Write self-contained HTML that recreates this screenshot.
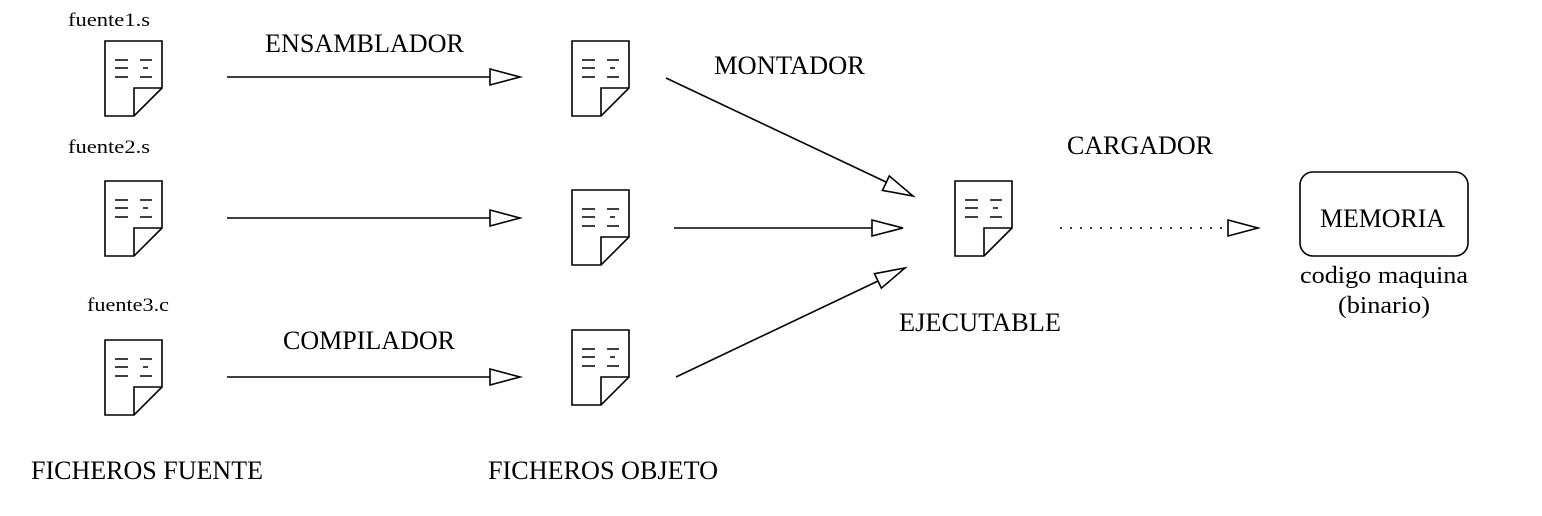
<!DOCTYPE html>
<html><head><meta charset="utf-8"><style>
html,body{margin:0;padding:0;background:#fff;}
svg{display:block;}
text{font-family:"Liberation Serif",serif;fill:#000;}
</style></head><body>
<svg width="1542" height="516" viewBox="0 0 1542 516" xmlns="http://www.w3.org/2000/svg">
<defs>
<g id="doc" fill="none" stroke="#000" stroke-width="1.6">
<path d="M0,0 H57 V47 L29,75 H0 Z" fill="#fff"/>
<path d="M57,47 H29 V75"/>
<path d="M10,19 H23 M10,27 H23 M10,36 H23 M35,19 H47 M38,27 H43 M35,36 H47"/>
</g>
</defs>
<use href="#doc" x="105" y="41"/>
<use href="#doc" x="105" y="181"/>
<use href="#doc" x="105" y="340"/>
<use href="#doc" x="572" y="41"/>
<use href="#doc" x="572" y="190"/>
<use href="#doc" x="572" y="330"/>
<use href="#doc" x="955" y="181"/>

<g stroke="#000" stroke-width="1.6" fill="#fff">
<line x1="227" y1="77" x2="490" y2="77"/><path d="M490,69 L520,77 L490,85 Z"/>
<line x1="227" y1="218" x2="490" y2="218"/><path d="M490,210 L520,218 L490,226 Z"/>
<line x1="227" y1="377" x2="490" y2="377"/><path d="M490,369 L520,377 L490,385 Z"/>
<line x1="674" y1="228" x2="872" y2="228"/><path d="M872,220 L903,228 L872,236 Z"/>
<line x1="666" y1="78" x2="886" y2="182"/><g transform="translate(913,196) rotate(25.3)"><path d="M-30,-8 L0,0 L-30,8 Z"/></g>
<line x1="676" y1="377" x2="878" y2="281"/><g transform="translate(905,268) rotate(-25.5)"><path d="M-30,-8 L0,0 L-30,8 Z"/></g>
<line x1="1060" y1="228" x2="1228" y2="228" stroke-dasharray="2,8"/><path d="M1228,220 L1258,228 L1228,236 Z"/>
<rect x="1300" y="172" width="168" height="84" rx="13" fill="none"/>
</g>

<g lengthAdjust="spacingAndGlyphs">
<text x="68" y="26" font-size="19" textLength="82" lengthAdjust="spacingAndGlyphs">fuente1.s</text>
<text x="68" y="153" font-size="19" textLength="82" lengthAdjust="spacingAndGlyphs">fuente2.s</text>
<text x="87" y="311" font-size="19" textLength="82" lengthAdjust="spacingAndGlyphs">fuente3.c</text>
<text x="265" y="52" font-size="26" textLength="199" lengthAdjust="spacingAndGlyphs">ENSAMBLADOR</text>
<text x="714" y="74" font-size="26" textLength="151" lengthAdjust="spacingAndGlyphs">MONTADOR</text>
<text x="1067" y="154" font-size="26" textLength="146" lengthAdjust="spacingAndGlyphs">CARGADOR</text>
<text x="283" y="349" font-size="26" textLength="172" lengthAdjust="spacingAndGlyphs">COMPILADOR</text>
<text x="899" y="331" font-size="26" textLength="162" lengthAdjust="spacingAndGlyphs">EJECUTABLE</text>
<text x="31" y="479" font-size="26" textLength="232" lengthAdjust="spacingAndGlyphs">FICHEROS FUENTE</text>
<text x="488" y="479" font-size="26" textLength="230" lengthAdjust="spacingAndGlyphs">FICHEROS OBJETO</text>
<text x="1320" y="227" font-size="26" textLength="125" lengthAdjust="spacingAndGlyphs">MEMORIA</text>
<text x="1300" y="283" font-size="24" textLength="168" lengthAdjust="spacingAndGlyphs">codigo maquina</text>
<text x="1338" y="313" font-size="24" textLength="92" lengthAdjust="spacingAndGlyphs">(binario)</text>
</g>
</svg>
</body></html>
